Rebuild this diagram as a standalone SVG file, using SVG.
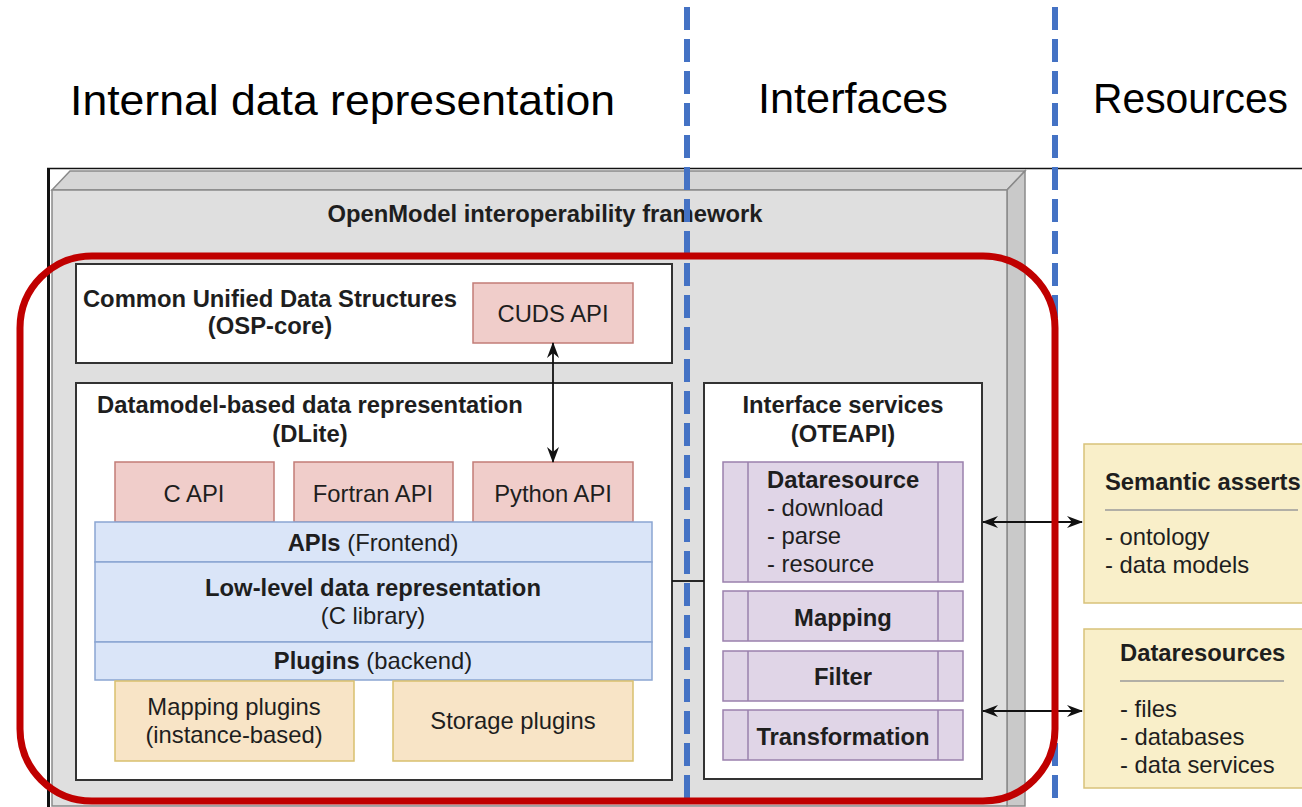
<svg xmlns="http://www.w3.org/2000/svg" width="1302" height="807" viewBox="0 0 1302 807">
<defs>
<style>
.hdr{font-family:"Liberation Sans",Arial,sans-serif;font-size:43px;fill:#000}
.t{font-family:"Liberation Sans",Arial,sans-serif;font-size:23.8px;fill:#1e1e1e}
.b{font-weight:bold}
.box{fill:#fff;stroke:#333;stroke-width:2}
.pink{fill:#f0cdca;stroke:#c27c77;stroke-width:1.5}
.blue{fill:#dae5f8;stroke:#8aa5d2;stroke-width:1.5}
.orange{fill:#f8e4c6;stroke:#d9c06e;stroke-width:1.5}
.purple{fill:#e0d5e7;stroke:#9a80ad;stroke-width:1.5}
.yel{fill:#f9efc9;stroke:#d8c27a;stroke-width:1.5}
.conn{stroke:#111;stroke-width:1.8;fill:none}
.dash{stroke:#4472c4;stroke-width:6;stroke-dasharray:23 9;fill:none}
</style>
<marker id="ah" viewBox="0 0 16 12" refX="15" refY="6" markerWidth="16" markerHeight="12" markerUnits="userSpaceOnUse" orient="auto-start-reverse">
<path d="M0,0 L16,6 L0,12 L5,6 z" fill="#111"/>
</marker>
</defs>
<rect width="1302" height="807" fill="#fff"/>

<g id="headers">
<text class="hdr" x="70" y="115" textLength="545" lengthAdjust="spacingAndGlyphs">Internal data representation</text>
<text class="hdr" x="758" y="113" textLength="190" lengthAdjust="spacingAndGlyphs">Interfaces</text>
<text class="hdr" x="1093" y="113" textLength="195" lengthAdjust="spacingAndGlyphs">Resources</text>
</g>

<g id="framework">
<line x1="47" y1="168.5" x2="1302" y2="168.5" stroke="#111" stroke-width="1.5"/>
<line x1="48.5" y1="168" x2="48.5" y2="807" stroke="#111" stroke-width="3"/>
<polygon points="52,190 70,171 1025,171 1007,190" fill="#d6d6d6" stroke="#8a8a8a" stroke-width="1.5"/>
<polygon points="1007,190 1025,171 1025,806 1007,806" fill="#c9c9c9" stroke="#8a8a8a" stroke-width="1.5"/>
<rect x="52" y="190" width="955" height="616" fill="#dfdfdf" stroke="#8a8a8a" stroke-width="1.5"/>
<text class="t b" x="545" y="222" text-anchor="middle">OpenModel interoperability framework</text>
</g>

<g id="cuds">
<rect class="box" x="76" y="264" width="596" height="99"/>
<text class="t b" x="270" y="307" text-anchor="middle">Common Unified Data Structures</text>
<text class="t b" x="270" y="334" text-anchor="middle">(OSP-core)</text>
</g>
<g id="cuds-api">
<rect class="pink" x="473" y="283" width="160" height="60"/>
<text class="t" x="553" y="322" text-anchor="middle">CUDS API</text>
</g>

<g id="dlite">
<rect class="box" x="76" y="383" width="596" height="397"/>
<text class="t b" x="310" y="413" text-anchor="middle">Datamodel-based data representation</text>
<text class="t b" x="310" y="442" text-anchor="middle">(DLite)</text>
</g>
<g id="c-api"><rect class="pink" x="115" y="462" width="159" height="60"/><text class="t" x="194" y="502" text-anchor="middle">C API</text></g>
<g id="fortran-api"><rect class="pink" x="294" y="462" width="159" height="60"/><text class="t" x="373" y="502" text-anchor="middle">Fortran API</text></g>
<g id="python-api"><rect class="pink" x="473" y="462" width="160" height="60"/><text class="t" x="553" y="502" text-anchor="middle">Python API</text></g>

<g id="apis-frontend"><rect class="blue" x="95" y="522" width="557" height="40"/><text class="t" x="373" y="551" text-anchor="middle"><tspan class="b">APIs</tspan> (Frontend)</text></g>
<g id="low-level"><rect class="blue" x="95" y="562" width="557" height="80"/><text class="t b" x="373" y="596" text-anchor="middle">Low-level data representation</text><text class="t" x="373" y="624" text-anchor="middle">(C library)</text></g>
<g id="plugins-backend"><rect class="blue" x="95" y="642" width="557" height="38"/><text class="t" x="373" y="669" text-anchor="middle"><tspan class="b">Plugins</tspan> (backend)</text></g>

<g id="mapping-plugins"><rect class="orange" x="115" y="681" width="239" height="80"/><text class="t" x="234" y="715" text-anchor="middle">Mapping plugins</text><text class="t" x="234" y="743" text-anchor="middle">(instance-based)</text></g>
<g id="storage-plugins"><rect class="orange" x="393" y="681" width="240" height="80"/><text class="t" x="513" y="729" text-anchor="middle">Storage plugins</text></g>

<g id="interface-services">
<rect class="box" x="704" y="383" width="278" height="396"/>
<text class="t b" x="843" y="413" text-anchor="middle">Interface services</text>
<text class="t b" x="843" y="442" text-anchor="middle">(OTEAPI)</text>
</g>
<g id="dataresource">
<rect class="purple" x="723" y="462" width="240" height="120"/>
<line x1="748" y1="462" x2="748" y2="582" stroke="#9a80ad" stroke-width="1.5"/>
<line x1="938" y1="462" x2="938" y2="582" stroke="#9a80ad" stroke-width="1.5"/>
<text class="t b" x="767" y="488">Dataresource</text>
<text class="t" x="767" y="516">- download</text>
<text class="t" x="767" y="544">- parse</text>
<text class="t" x="767" y="572">- resource</text>
</g>
<g id="mapping">
<rect class="purple" x="723" y="591" width="240" height="50"/>
<line x1="748" y1="591" x2="748" y2="641" stroke="#9a80ad" stroke-width="1.5"/>
<line x1="938" y1="591" x2="938" y2="641" stroke="#9a80ad" stroke-width="1.5"/>
<text class="t b" x="843" y="626" text-anchor="middle">Mapping</text>
</g>
<g id="filter">
<rect class="purple" x="723" y="651" width="240" height="50"/>
<line x1="748" y1="651" x2="748" y2="701" stroke="#9a80ad" stroke-width="1.5"/>
<line x1="938" y1="651" x2="938" y2="701" stroke="#9a80ad" stroke-width="1.5"/>
<text class="t b" x="843" y="685" text-anchor="middle">Filter</text>
</g>
<g id="transformation">
<rect class="purple" x="723" y="710" width="240" height="50"/>
<line x1="748" y1="710" x2="748" y2="760" stroke="#9a80ad" stroke-width="1.5"/>
<line x1="938" y1="710" x2="938" y2="760" stroke="#9a80ad" stroke-width="1.5"/>
<text class="t b" x="843" y="745" text-anchor="middle">Transformation</text>
</g>

<g id="semantic-asserts">
<rect class="yel" x="1084" y="444" width="230" height="159"/>
<text class="t b" x="1105" y="490">Semantic asserts</text>
<line x1="1105" y1="510" x2="1298" y2="510" stroke="#9a9a9a" stroke-width="1.5"/>
<text class="t" x="1105" y="545">- ontology</text>
<text class="t" x="1105" y="573">- data models</text>
</g>
<g id="dataresources">
<rect class="yel" x="1084" y="629" width="230" height="159"/>
<text class="t b" x="1120" y="661">Dataresources</text>
<line x1="1120" y1="681" x2="1284" y2="681" stroke="#9a9a9a" stroke-width="1.5"/>
<text class="t" x="1120" y="717">- files</text>
<text class="t" x="1120" y="745">- databases</text>
<text class="t" x="1120" y="773">- data services</text>
</g>

<g id="connectors">
<line class="conn" x1="553" y1="343" x2="553" y2="462" marker-start="url(#ah)" marker-end="url(#ah)"/>
<line class="conn" x1="672" y1="581" x2="704" y2="581"/>
<line class="conn" x1="983" y1="522" x2="1082" y2="522" marker-start="url(#ah)" marker-end="url(#ah)"/>
<line class="conn" x1="983" y1="711" x2="1082" y2="711" marker-start="url(#ah)" marker-end="url(#ah)"/>
</g>

<g id="dividers">
<line class="dash" x1="687" y1="7" x2="687" y2="807"/>
<line class="dash" x1="1055" y1="7" x2="1055" y2="807"/>
</g>

<g id="highlight">
<rect x="20" y="256" width="1035" height="545" rx="72" ry="72" fill="none" stroke="#c00000" stroke-width="7"/>
</g>
</svg>
